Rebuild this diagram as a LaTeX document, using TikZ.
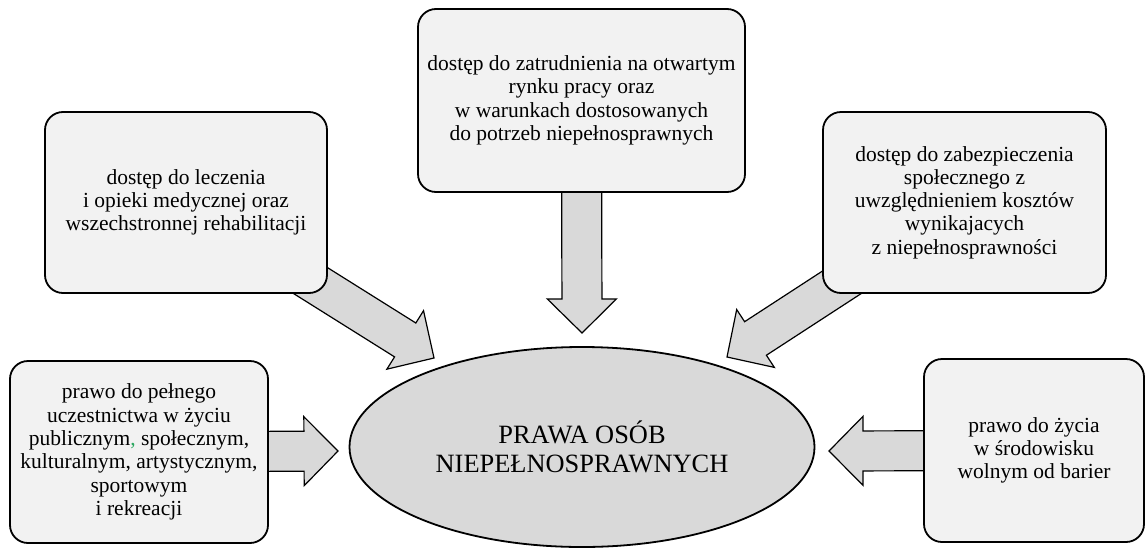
\documentclass[tikz,border=0pt]{standalone}
\usepackage{fontspec}
\setmainfont{Liberation Serif}
\usetikzlibrary{calc,shapes.geometric}
\pgfdeclarelayer{background}
\pgfsetlayers{background,main}

\definecolor{boxfill}{HTML}{F2F2F2}
\definecolor{arrowfill}{HTML}{D9D9D9}
\definecolor{commagreen}{HTML}{2BA860}

% block arrow from #1 to the tip #2: shaft half-width 20, head half-width 34.5, head length 34
\newcommand\fatarrow[2]{%
  \coordinate (fa-h) at ($(#2)!34pt!(#1)$);
  \draw[blockarrow] ($(#1)!20pt!90:(#2)$) -- ($(fa-h)!20pt!90:(#2)$)
    -- ($(fa-h)!34.5pt!90:(#2)$) -- (#2) -- ($(fa-h)!34.5pt!-90:(#2)$)
    -- ($(fa-h)!20pt!-90:(#2)$) -- ($(#1)!20pt!-90:(#2)$) -- cycle;
}

\tikzset{
  infobox/.style={draw=black, line width=1.8pt, fill=boxfill, rounded corners=18pt,
    align=center, inner sep=0pt, font=\fontsize{21.5}{23.3}\selectfont},
  hub/.style={ellipse, draw=black, line width=1.8pt, fill=arrowfill, align=center,
    inner sep=0pt, minimum width=465pt, minimum height=200pt,
    font=\fontsize{26.4}{28.3}\selectfont},
  blockarrow/.style={draw=black, line width=1.2pt, fill=arrowfill, line join=miter},
}

\begin{document}
\begin{tikzpicture}[x=1pt, y=-1pt]
\useasboundingbox (0,0) rectangle (1147,549);

% central ellipse
\node[hub] (hub) at (582,447) {PRAWA OSÓB\\NIEPEŁNOSPRAWNYCH};

% surrounding boxes
\node[infobox, minimum width=327pt, minimum height=183pt] (work) at (581.5,100.5)
  {dostęp do zatrudnienia na otwartym\\rynku pracy oraz\\w warunkach dostosowanych\\do potrzeb niepełnosprawnych};
\node[infobox, minimum width=282pt, minimum height=181pt] (care) at (186,202.5)
  {dostęp do leczenia\\i opieki medycznej oraz\\wszechstronnej rehabilitacji};
\node[infobox, minimum width=283pt, minimum height=181pt] (social) at (964.5,202.5)
  {dostęp do zabezpieczenia\\społecznego z\\uwzględnieniem kosztów\\wynikajacych\\z niepełnosprawności};
\node[infobox, minimum width=258pt, minimum height=182pt] (part) at (139,452)
  {prawo do pełnego\\uczestnictwa w życiu\\publicznym{\color{commagreen},} społecznym,\\kulturalnym, artystycznym,\\sportowym\\i rekreacji};
\node[infobox, minimum width=220pt, minimum height=183pt] (env) at (1034,450.5)
  {prawo do życia\\w środowisku\\wolnym od barier};

% arrow tips near the ellipse
\coordinate (tWork) at (582,333);
\coordinate (tCare) at (434,358);
\coordinate (tSocial) at (727,357);
\coordinate (tPart) at (338,451);
\coordinate (tEnv) at (829,451);

\begin{pgfonlayer}{background}
  \fatarrow{work.center}{tWork}
  \fatarrow{care.center}{tCare}
  \fatarrow{social.center}{tSocial}
  \fatarrow{part.center}{tPart}
  \fatarrow{env.center}{tEnv}
\end{pgfonlayer}
\end{tikzpicture}
\end{document}
